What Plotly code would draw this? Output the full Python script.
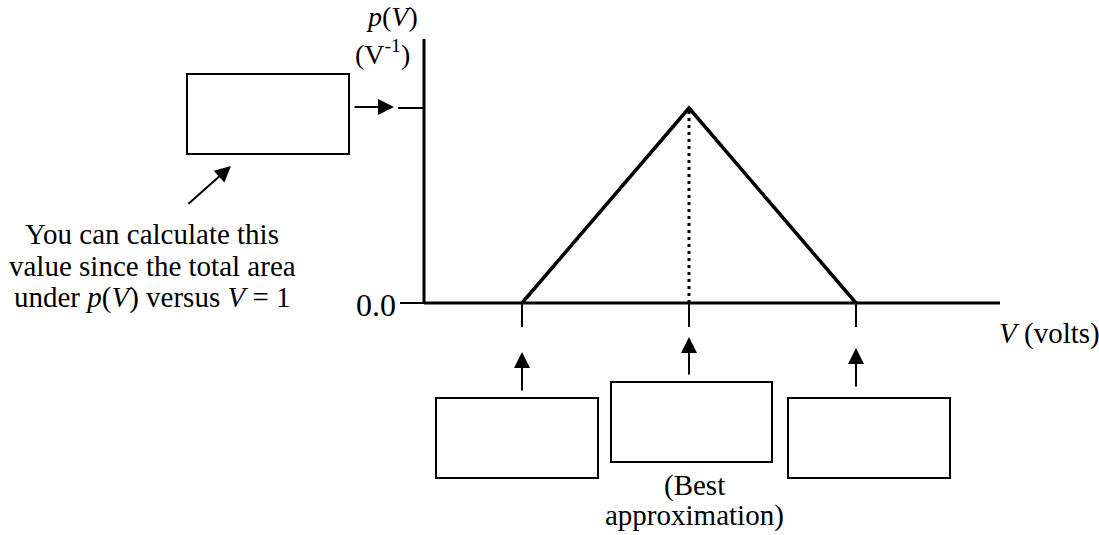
import plotly.graph_objects as go

# triangular distribution p(V): zero at V=1 and V=3, peak at V=2 (area = 1)
v_points = [1, 2, 3]
p_values = [0, 1, 0]
peak_v = 2
peak_p = 1
zero_label = "0.0"

note_lines = ["You can calculate this",
              "value since the total area",
              "under <i>p</i>(<i>V</i>) versus <i>V</i> = 1"]
best_lines = ["(Best", "approximation)"]

W, H = 1099, 535
# pixel geometry of the drawing
PX_V1, PX_PER_V = 522, 167
PY_P0, PY_PER_P = 303, 195


def X(px):
    return 1 + (px - PX_V1) / PX_PER_V


def Y(py):
    return (PY_P0 - py) / PY_PER_P


FONT = "Liberation Serif, Times New Roman, serif"
shapes = []
annotations = []


def line(x0, y0, x1, y1, w=2):
    shapes.append(dict(type="line", xref="x", yref="y", x0=x0, y0=y0, x1=x1, y1=y1,
                       line=dict(color="black", width=w)))


def box(px0, py0, px1, py1):
    shapes.append(dict(type="rect", xref="x", yref="y", x0=X(px0), y0=Y(py0), x1=X(px1), y1=Y(py1),
                       line=dict(color="black", width=2), fillcolor="rgba(0,0,0,0)"))


def arrow(tx, ty, hx, hy):
    annotations.append(dict(x=X(hx), y=Y(hy), ax=X(tx), ay=Y(ty), xref="x", yref="y",
                            axref="x", ayref="y", text="", showarrow=True, arrowhead=2,
                            arrowsize=1.6, arrowwidth=2, arrowcolor="black", standoff=0,
                            startstandoff=0))


def label(px, py, text, size=29, xanchor="center", pad=1):
    annotations.append(dict(x=X(px), y=Y(py), xref="x", yref="y", text=text, showarrow=False,
                            xanchor=xanchor, yanchor="middle", borderpad=pad,
                            font=dict(family=FONT, size=size, color="black")))


fig = go.Figure()

# main triangle
fig.add_trace(go.Scatter(x=v_points, y=p_values, mode="lines",
                         line=dict(color="black", width=3.5), hoverinfo="skip"))
# dotted line under the peak
fig.add_trace(go.Scatter(x=[peak_v, peak_v], y=[0, peak_p], mode="lines",
                         line=dict(color="black", width=3, dash="3px,4px"), hoverinfo="skip"))

# axes
line(X(424), 0, X(424), Y(39), w=3)
line(X(424), 0, X(1000), 0, w=3)
# y ticks
line(X(400), 0, X(424), 0)
line(X(398), peak_p, X(424), peak_p)
# x ticks under the three marked points
for v in v_points:
    line(v, 0, v, Y(327))

# boxes
box(187, 74, 349, 154)
box(436, 398, 598, 478)
box(611, 382, 772, 462)
box(788, 398, 950, 478)

# arrows
arrow(353, 107, 394, 107)
arrow(187, 205, 231, 166)
arrow(522, 392, 522, 352)
arrow(689, 376, 689, 337)
arrow(856, 388, 856, 348)

# text
label(398, 304.5, zero_label, size=32, xanchor="right")
label(392, 16, "<i>p</i>(<i>V</i>)", size=28, pad=0)
label(382, 52, "(V<sup>-1</sup>)", size=28, pad=0)
label(997, 333.5, "<i>V</i> (volts)", xanchor="left")
for i, t in enumerate(note_lines):
    label(152, 233.5 + 32 * i, t)
for i, t in enumerate(best_lines):
    label(694, 485.5 + 29.5 * i, t)

fig.update_layout(
    width=W, height=H, margin=dict(l=0, r=0, t=0, b=0),
    paper_bgcolor="white", plot_bgcolor="white", showlegend=False,
    xaxis=dict(range=[X(0), X(W)], visible=False, fixedrange=True),
    yaxis=dict(range=[Y(H), Y(0)], visible=False, fixedrange=True),
    shapes=shapes, annotations=annotations,
)

# page body has an 8px default margin; drop it so the figure sits at the corner
fig.write_html("out.html", config={"displayModeBar": False},
               post_script="document.body.style.margin='0';")
